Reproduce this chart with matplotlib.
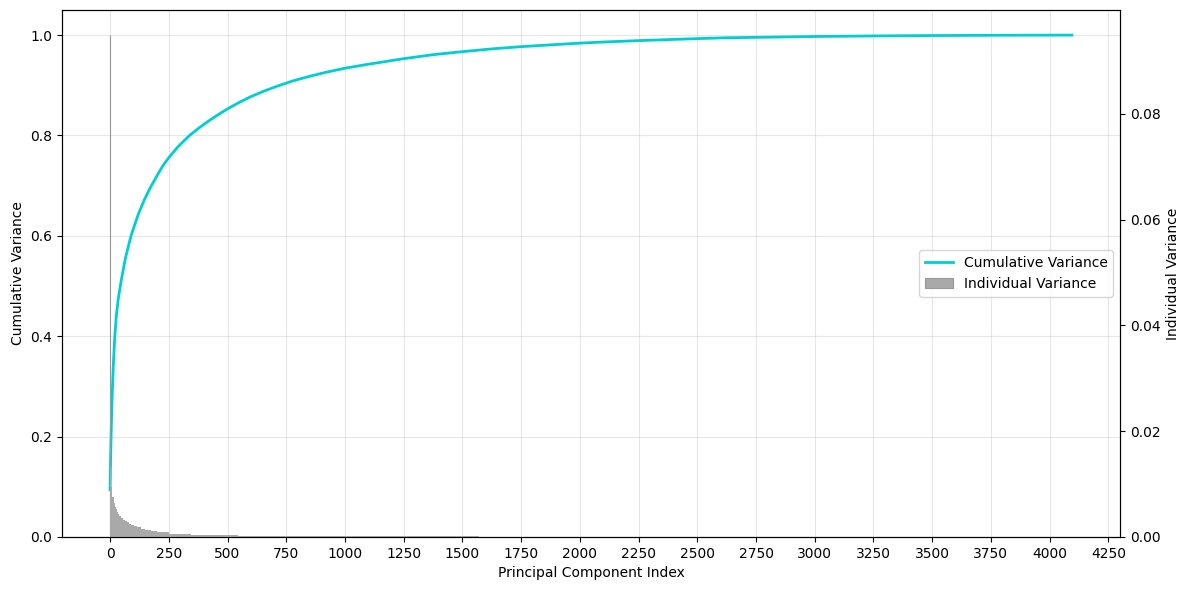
import matplotlib
matplotlib.use("Agg")
import matplotlib.pyplot as plt
import numpy as np

# cumulative explained variance (component index -> value)
cum_idx = [0, 1, 3, 5, 7, 10, 14, 20, 27, 35, 47, 65, 89, 107, 120, 146, 170,
           200, 225, 252, 290, 338, 380, 420, 460, 500, 550, 600, 650, 710,
           780, 850, 920, 1000, 1100, 1250, 1375, 1500, 1625, 1750, 1875,
           2000, 2125, 2250, 2375, 2500, 2625, 2750, 3000, 3250, 3500, 3800,
           4095]
cum_var = [0.094, 0.124, 0.174, 0.216, 0.252, 0.297, 0.345, 0.399, 0.443,
           0.475, 0.51, 0.555, 0.60, 0.625, 0.643, 0.672, 0.695, 0.72, 0.74,
           0.757, 0.778, 0.80, 0.8155, 0.829, 0.8415, 0.853, 0.866, 0.8775,
           0.8875, 0.898, 0.909, 0.918, 0.926, 0.934, 0.942, 0.953, 0.961,
           0.967, 0.9725, 0.977, 0.9805, 0.984, 0.9867, 0.989, 0.991, 0.993,
           0.9947, 0.9955, 0.9972, 0.9983, 0.9991, 0.9997, 1.0]

# individual variance, grouped by runs of components (start, end, value)
bar_start = [0, 1, 5, 10, 15, 20, 25, 30, 35, 40, 47, 55, 62, 70, 80, 90, 100,
             115, 130, 150, 175, 200, 250, 345, 545]
bar_end = [1, 5, 10, 15, 20, 25, 30, 35, 40, 47, 55, 62, 70, 80, 90, 100, 115,
           130, 150, 175, 200, 250, 345, 545, 1570]
bar_var = [0.0949, 0.0132, 0.0095, 0.0075, 0.0065, 0.0057, 0.0052, 0.0048,
           0.0044, 0.0040, 0.0036, 0.0033, 0.0031, 0.0028, 0.0025, 0.0023,
           0.0021, 0.0018, 0.0015, 0.0013, 0.0011, 0.0009, 0.0006, 0.0004,
           0.00012]

fig, ax1 = plt.subplots(figsize=(11.89, 5.9), dpi=100)
ax2 = ax1.twinx()

l1, = ax1.plot(cum_idx, cum_var, color='darkturquoise', linewidth=2,
               label='Cumulative Variance')
widths = np.array(bar_end) - np.array(bar_start)
b1 = ax2.bar(bar_start, bar_var, width=widths, align='edge', color='darkgray',
             linewidth=0, label='Individual Variance')
# first component is far thinner than a pixel, give it a hairline edge
b1.patches[0].set_edgecolor('#999999')
b1.patches[0].set_linewidth(0.8)

ax1.set_ylim(0, 1.05)
ax1.set_xticks(np.arange(0, 4251, 250))
ax1.grid(True, alpha=0.3)
ax1.set_xlabel('Principal Component Index')
ax1.set_ylabel('Cumulative Variance')
ax2.set_ylabel('Individual Variance')

ax1.legend([l1, b1], ['Cumulative Variance', 'Individual Variance'],
           loc='center right')

fig.subplots_adjust(left=62/1189, right=1120/1189, top=1-10/590,
                    bottom=1-537/590)
fig.savefig('out.png', dpi=100)
